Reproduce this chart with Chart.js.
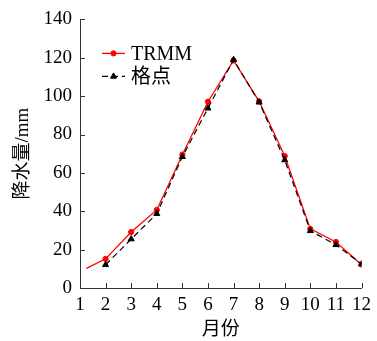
<!DOCTYPE html>
<html>
<head>
<meta charset="utf-8">
<script src="https://cdn.jsdelivr.net/npm/chart.js@4/dist/chart.umd.min.js"></script>
<style>
  html, body { margin: 0; padding: 0; background: #fff; }
  #wrap { width: 377px; height: 341px; position: relative; }
</style>
</head>
<body>
<div id="wrap"><canvas id="chart" width="377" height="341"></canvas></div>
<script>
// data
var months = [2, 3, 4, 5, 6, 7, 8, 9, 10, 11, 12];
var trmm = [15.2, 29.2, 40.7, 69.5, 97.1, 118.6, 97.3, 68.8, 30.8, 24, 12.2];
var grid = [12.1, 25.5, 38.7, 68.4, 93.7, 119, 96.8, 66.7, 29.8, 22.5, 12.5];
// red curve begins a little after month 1
var trmmStart = {x: 1.25, y: 10.2};
var xTicks = [1, 2, 3, 4, 5, 6, 7, 8, 9, 10, 11, 12];

var serif = "'Liberation Serif', 'Noto Sans CJK SC', serif";

function toPoints(xs, ys) {
    return xs.map(function(x, i) { return {x: x, y: ys[i]}; });
}

var trmmPoints = [trmmStart].concat(toPoints(months, trmm));
var trmmRadius = trmmPoints.map(function(p, i) { return i === 0 ? 0 : 2.6; });

// inward ticks + legend inside the plot
var extras = {
    id: 'extras',
    afterDraw: function(chart) {
        var ctx = chart.ctx;
        var xs = chart.scales.x, ys = chart.scales.y;
        var area = chart.chartArea;
        ctx.save();
        ctx.strokeStyle = '#333';
        ctx.lineWidth = 1;
        ctx.beginPath();
        xTicks.forEach(function(v) {
            var px = Math.round(xs.getPixelForValue(v)) + 0.5;
            ctx.moveTo(px, area.bottom);
            ctx.lineTo(px, area.bottom - 5);
        });
        for (var v = 0; v <= 140; v += 20) {
            var py = Math.round(ys.getPixelForValue(v)) + 0.5;
            ctx.moveTo(area.left, py);
            ctx.lineTo(area.left + 5, py);
        }
        ctx.stroke();

        // legend: TRMM first, then 格点
        var items = [chart.data.datasets[1], chart.data.datasets[0]];
        var lx = area.left + 22, ly = area.top + 34;
        ctx.font = '20px ' + serif;
        ctx.textBaseline = 'middle';
        items.forEach(function(ds, i) {
            var y = ly + i * 23;
            ctx.strokeStyle = ds.borderColor;
            ctx.lineWidth = 1.3;
            ctx.setLineDash(ds.borderDash || []);
            ctx.beginPath();
            ctx.moveTo(lx, y);
            ctx.lineTo(lx + 23, y);
            ctx.stroke();
            ctx.setLineDash([]);
            ctx.fillStyle = ds.borderColor;
            ctx.strokeStyle = ds.borderColor;
            ctx.lineWidth = 1;
            Chart.helpers.drawPoint(ctx, {pointStyle: ds.pointStyle, radius: ds.pointStyle === 'triangle' ? 3.5 : 2.6, borderWidth: 1}, lx + 11.5, y);
            ctx.fillStyle = '#000';
            ctx.fillText(ds.label, lx + 29, y + 1);
        });
        ctx.restore();
    }
};

var ctx = document.getElementById('chart');
var chart = new Chart(ctx, {
    type: 'line',
    data: {
        datasets: [
            {
                label: '格点',
                data: toPoints(months, grid),
                borderColor: '#000',
                backgroundColor: '#000',
                pointBackgroundColor: '#000',
                pointBorderColor: '#000',
                borderWidth: 1.2,
                borderDash: [6, 4],
                pointStyle: 'triangle',
                pointRadius: 3.5,
                pointBorderWidth: 1,
                order: 1
            },
            {
                label: 'TRMM',
                data: trmmPoints,
                borderColor: '#ff0000',
                backgroundColor: '#ff0000',
                pointBackgroundColor: '#ff0000',
                pointBorderColor: '#ff0000',
                borderWidth: 1.3,
                pointStyle: 'circle',
                pointRadius: trmmRadius,
                pointBorderWidth: 1,
                order: 2
            }
        ]
    },
    options: {
        responsive: false,
        animation: false,
        layout: { padding: { top: 16, right: 11, left: 0, bottom: 0 } },
        plugins: {
            legend: { display: false },
            tooltip: { enabled: false }
        },
        scales: {
            x: {
                type: 'linear',
                min: 1,
                max: 12,
                afterBuildTicks: function(scale) {
                    scale.ticks = xTicks.map(function(v) { return {value: v}; });
                },
                afterFit: function(scale) { scale.height = 53; },
                grid: { display: true, drawOnChartArea: false, drawTicks: false, color: '#333' },
                border: { display: true, color: '#333', width: 1 },
                ticks: {
                    color: '#000',
                    padding: 6,
                    maxRotation: 0,
                    autoSkip: false,
                    font: { family: serif, size: 19 }
                },
                title: {
                    display: true,
                    text: '月份',
                    color: '#000',
                    padding: { top: 0, bottom: 0 },
                    font: { family: serif, size: 19 }
                }
            },
            y: {
                min: 0,
                max: 140,
                ticks: {
                    stepSize: 20,
                    color: '#000',
                    padding: 8,
                    font: { family: serif, size: 19 }
                },
                afterFit: function(scale) { scale.width = 80; },
                grid: { display: true, drawOnChartArea: false, drawTicks: false, color: '#333' },
                border: { display: true, color: '#333', width: 1 },
                title: {
                    display: true,
                    text: '降水量/mm',
                    color: '#000',
                    padding: { top: 12, bottom: 0 },
                    font: { family: serif, size: 19 }
                }
            }
        }
    },
    plugins: [extras]
});
</script>
</body>
</html>
